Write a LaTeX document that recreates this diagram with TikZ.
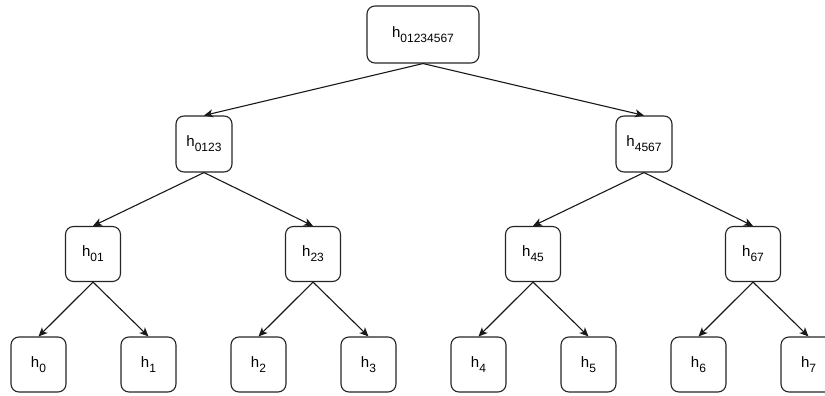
\documentclass[tikz,border=0pt]{standalone}
\usepackage{fontspec}
\setmainfont{Liberation Sans}
\usetikzlibrary{arrows.meta}
% label "h" with a lowered, smaller index
\newcommand{\hlabel}[1]{h\raisebox{-5pt}{\fontsize{12}{14}\selectfont #1}}
\begin{document}
\begin{tikzpicture}[x=1pt,y=-1pt,
  box/.style={draw=black!85, line width=1.1pt, rounded corners=8pt,
    minimum width=55pt, minimum height=55pt, inner sep=0pt,
    font=\fontsize{15}{18}\selectfont, fill=white},
  rootbox/.style={box, minimum width=112pt, minimum height=57pt},
  link/.style={line width=1.1pt, draw=black!90,
    -{Stealth[length=9pt,width=8pt,inset=2.5pt]}}]
\useasboundingbox (0,0) rectangle (825,396);
\clip (0,0) rectangle (825,396);

% root
\node[rootbox] (r) at (423,34.5) {\hlabel{01234567}};

% first level
\node[box, minimum width=56pt, minimum height=56pt] (a) at (204,144) {\hlabel{0123}};
\node[box, minimum width=56pt, minimum height=56pt] (b) at (644,144) {\hlabel{4567}};

% second level
\node[box] (a0) at (93,254)  {\hlabel{01}};
\node[box] (a1) at (313,254) {\hlabel{23}};
\node[box] (b0) at (533,254) {\hlabel{45}};
\node[box] (b1) at (753,254) {\hlabel{67}};

% leaves
\foreach \i in {0,...,7} {
  \node[box] (l\i) at (38.5+110*\i,364.5) {\hlabel{\i}};
}

% connectors
\draw[link] (r.south) -- (a.north);
\draw[link] (r.south) -- (b.north);
\draw[link] (a.south) -- (a0.north);
\draw[link] (a.south) -- (a1.north);
\draw[link] (b.south) -- (b0.north);
\draw[link] (b.south) -- (b1.north);
\draw[link] (a0.south) -- (l0.north);
\draw[link] (a0.south) -- (l1.north);
\draw[link] (a1.south) -- (l2.north);
\draw[link] (a1.south) -- (l3.north);
\draw[link] (b0.south) -- (l4.north);
\draw[link] (b0.south) -- (l5.north);
\draw[link] (b1.south) -- (l6.north);
\draw[link] (b1.south) -- (l7.north);
\end{tikzpicture}
\end{document}
